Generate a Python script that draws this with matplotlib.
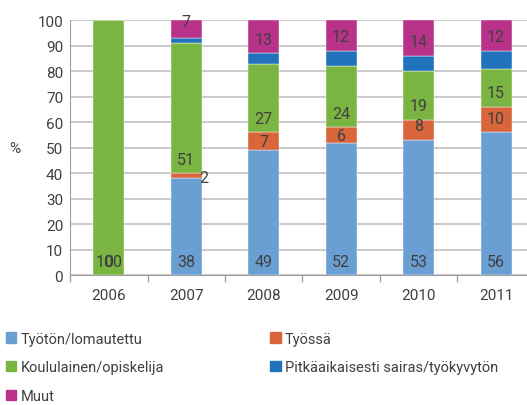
import numpy as np
import matplotlib.pyplot as plt
from matplotlib.patches import Patch

plt.rcParams['font.family'] = ['Roboto', 'DejaVu Sans']

years = ['2006', '2007', '2008', '2009', '2010', '2011']
series = ['Työtön/lomautettu', 'Työssä', 'Koululainen/opiskelija',
          'Pitkäaikaisesti sairas/työkyvytön', 'Muut']
tyoton = [0, 38, 49, 52, 53, 56]
tyossa = [0, 2, 7, 6, 8, 10]
koululainen = [100, 51, 27, 24, 19, 15]
sairas = [0, 2, 4, 6, 6, 7]
muut = [0, 7, 13, 12, 14, 12]
colors = ['#6a9fd3', '#d9653b', '#7ab441', '#2072ba', '#b8328a']

# which series get a value label (dark blue one has none)
show_label = [True, True, True, False, True]

data = np.array([tyoton, tyossa, koululainen, sairas, muut])
txt = '#404040'

fig = plt.figure(figsize=(5.27, 4.06), dpi=100)
ax = fig.add_axes([0.133, 0.319, 0.882, 0.629])

x = np.arange(len(years))
bottom = np.zeros(len(years))
for k in range(len(series)):
	vals = data[k]
	ax.bar(x, vals, 0.4, bottom=bottom, color=colors[k], label=series[k],
		   edgecolor='white', linewidth=0.3, zorder=3)
	if show_label[k]:
		for i in range(len(years)):
			v = vals[i]
			if v == 0 and not (k == 0 and i == 0):
				continue
			if k == 0 and i == 0:
				y = 5.5
				xx = x[i]
			elif v < 3:
				y = bottom[i] + v / 2 - 0.5
				xx = x[i] + 0.22
			elif v < 8 and k != 4:
				y = bottom[i] + v / 2
				xx = x[i]
			elif k == 4 and v < 8:
				y = bottom[i] + v - 0.5
				xx = x[i]
			else:
				y = bottom[i] + 5.6
				xx = x[i]
			ax.text(xx, y, str(int(v)), ha='center', va='center',
					fontsize=11.5, color=txt, zorder=4)
	bottom += vals

ax.set_xlim(-0.5, 5.5)
ax.set_ylim(0, 100)
ax.set_yticks(np.arange(0, 101, 10))
ax.set_xticks(x)
ax.set_xticklabels(years)
ax.set_xticks(np.arange(-0.5, 5.6, 1), minor=True)
ax.tick_params(axis='x', which='major', length=0, pad=9, labelsize=11, labelcolor=txt)
ax.tick_params(axis='x', which='minor', length=5, color='#a0a0a0', width=1)
ax.tick_params(axis='y', length=0, pad=5, labelsize=11, labelcolor=txt)
ax.grid(axis='y', color='#c0c0c0', linewidth=1.2, zorder=0)
for s in ['top', 'right']:
	ax.spines[s].set_visible(False)
for s in ['left', 'bottom']:
	ax.spines[s].set_color('#a0a0a0')
ax.set_ylabel('%', rotation=0, fontsize=11, color=txt, labelpad=16, va='center')

handles = [Patch(color=c) for c in colors]
order = [0, 2, 4, 1, 3]
fig.legend([handles[i] for i in order], [series[i] for i in order], ncol=2,
		   loc='upper left', bbox_to_anchor=(0.0, 0.195), frameon=False,
		   fontsize=10.5, handlelength=0.7, handleheight=0.7, handletextpad=0.3,
		   labelspacing=1.0, columnspacing=7.3, labelcolor=txt, borderaxespad=0)

fig.savefig('out.png', dpi=100)
